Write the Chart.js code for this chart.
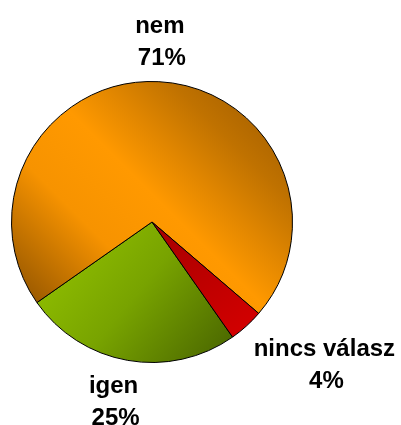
<!DOCTYPE html>
<html>
<head>
<meta charset="utf-8">
<script src="https://cdn.jsdelivr.net/npm/chart.js@4.4.0/dist/chart.umd.min.js"></script>
<style>
  html, body { margin: 0; padding: 0; background: #fff; }
  #wrap { width: 401px; height: 425px; }
</style>
</head>
<body>
<div id="wrap"><canvas id="pieChart" width="401" height="425"></canvas></div>
<script>
// chart data
const labels = ["igen", "nem", "nincs válasz"];
const percents = [25, 71, 4];

// label offsets from the arc edge (pixels), same order as labels
const labelShift = [[-14, 41], [1, -41], [78, 38]];

function sliceFill(ctx) {
  const area = ctx.chart.chartArea;
  if (!area) return "#ff9900";
  const c = ctx.chart.ctx;
  const w = area.right - area.left, h = area.bottom - area.top;
  let g;
  if (ctx.dataIndex === 1) {
    // orange: dark upper right, bright middle, dark lower left
    g = c.createLinearGradient(area.right, area.top, area.left, area.bottom);
    g.addColorStop(0, "#955500");
    g.addColorStop(0.22, "#c07200");
    g.addColorStop(0.45, "#ff9900");
    g.addColorStop(0.62, "#f79300");
    g.addColorStop(0.82, "#a86200");
    g.addColorStop(1, "#643a00");
  } else if (ctx.dataIndex === 0) {
    g = c.createLinearGradient(area.left + w * 0.2, area.top + h * 0.55, area.left + w * 0.75, area.bottom);
    g.addColorStop(0, "#8fbe00");
    g.addColorStop(0.45, "#78a300");
    g.addColorStop(1, "#4a6600");
  } else {
    g = c.createLinearGradient(area.left + w * 0.55, area.top + h * 0.5, area.left + w * 0.85, area.top + h * 0.9);
    g.addColorStop(0, "#a80000");
    g.addColorStop(1, "#d40000");
  }
  return g;
}

const pieLabels = {
  id: "pieLabels",
  afterDraw(chart) {
    const c = chart.ctx;
    const arcs = chart.getDatasetMeta(0).data;
    c.save();
    c.font = "bold 24px 'Liberation Sans', Arial, sans-serif";
    c.fillStyle = "#000";
    c.textAlign = "center";
    c.textBaseline = "alphabetic";
    arcs.forEach((arc, i) => {
      const mid = (arc.startAngle + arc.endAngle) / 2;
      const ex = arc.x + Math.cos(mid) * arc.outerRadius;
      const ey = arc.y + Math.sin(mid) * arc.outerRadius;
      const x = ex + labelShift[i][0];
      const y = ey + labelShift[i][1];
      c.fillText(labels[i], x, y - 8);
      c.fillText(percents[i] + "%", x + 2, y + 24);
    });
    c.restore();
  }
};

new Chart(document.getElementById("pieChart").getContext("2d"), {
  type: "pie",
  data: {
    labels: labels,
    datasets: [{
      data: percents,
      backgroundColor: sliceFill,
      borderColor: "#000",
      borderWidth: 1
    }]
  },
  options: {
    responsive: false,
    animation: false,
    rotation: 145,
    layout: { padding: { left: 11, right: 108, top: 81, bottom: 62 } },
    plugins: {
      legend: { display: false },
      tooltip: { enabled: false }
    }
  },
  plugins: [pieLabels]
});
</script>
</body>
</html>
